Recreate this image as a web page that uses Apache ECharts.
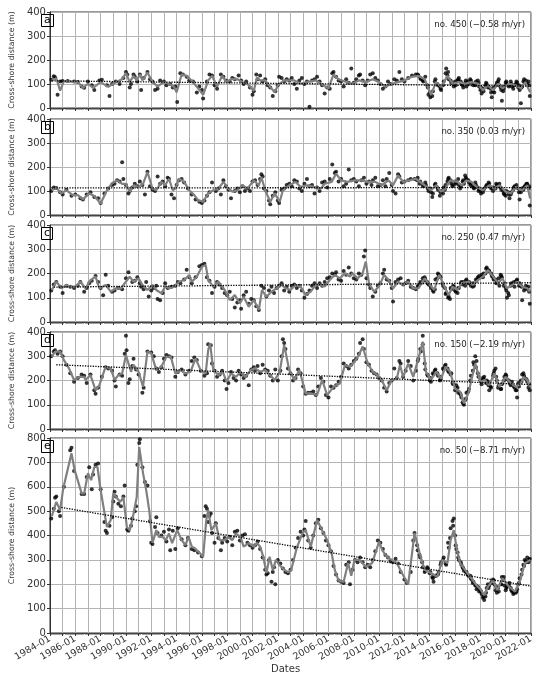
<!DOCTYPE html>
<html>
<head>
<meta charset="utf-8">
<script src="https://cdn.jsdelivr.net/npm/echarts@6/dist/echarts.min.js"></script>
<style>
html,body{margin:0;padding:0;background:#fff}
#main{width:550px;height:679px}
</style>
</head>
<body>
<div id="main"></div>
<script>
// transect labels
var letters = ['a', 'b', 'c', 'd', 'e'];
var notes = ['no. 450 (\u22120.58 m/yr)', 'no. 350 (0.03 m/yr)', 'no. 250 (0.47 m/yr)', 'no. 150 (\u22122.19 m/yr)', 'no. 50 (\u22128.71 m/yr)'];
var yMax = [400, 400, 400, 400, 800];

// shoreline positions [decimal year, m]
var ptsA = [[1984.1,118],[1984.3,132],[1984.4,128],[1984.6,55],[1984.8,110],[1985.0,112],[1985.4,112],[1985.9,110],[1986.2,108],[1986.5,90],[1986.7,84],[1987.0,110],[1987.3,95],[1987.5,75],[1987.9,115],[1988.1,118],[1988.5,95],[1988.7,50],[1988.9,100],[1989.2,110],[1989.5,100],[1989.8,125],[1990.0,150],[1990.1,140],[1990.3,85],[1990.4,100],[1990.6,140],[1990.7,130],[1990.9,110],[1991.1,140],[1991.2,75],[1991.4,125],[1991.7,150],[1991.9,120],[1992.1,110],[1992.3,75],[1992.5,80],[1992.7,115],[1993.0,110],[1993.2,95],[1993.5,100],[1993.7,85],[1993.9,90],[1994.05,25],[1994.3,145],[1994.5,140],[1994.8,130],[1995.0,115],[1995.3,110],[1995.6,65],[1995.8,90],[1996.0,75],[1996.1,40],[1996.4,110],[1996.6,140],[1996.8,135],[1997.0,95],[1997.2,80],[1997.5,140],[1997.7,130],[1997.9,115],[1998.2,110],[1998.4,125],[1998.6,120],[1998.9,135],[1999.1,115],[1999.3,100],[1999.5,110],[1999.8,85],[2000.0,55],[2000.1,70],[2000.3,140],[2000.4,120],[2000.6,135],[2000.8,110],[2001.0,120],[2001.2,95],[2001.4,85],[2001.6,50],[2001.8,70],[2002.0,95],[2002.1,130],[2002.3,125],[2002.5,110],[2002.7,120],[2002.9,115],[2003.1,125],[2003.3,100],[2003.5,80],[2003.7,115],[2003.9,125],[2004.1,100],[2004.3,110],[2004.5,5],[2004.7,115],[2004.9,120],[2005.1,130],[2005.3,110],[2005.5,95],[2005.7,60],[2005.9,85],[2006.1,80],[2006.3,145],[2006.4,150],[2006.6,130],[2006.8,115],[2007.0,110],[2007.2,90],[2007.4,120],[2007.6,105],[2007.8,165],[2008.0,105],[2008.2,120],[2008.4,135],[2008.5,140],[2008.7,115],[2008.9,95],[2009.1,115],[2009.3,140],[2009.5,145],[2009.7,125],[2009.9,115],[2010.1,100],[2010.3,80],[2010.5,90],[2010.7,110],[2010.9,100],[2011.2,120],[2011.4,115],[2011.6,150],[2011.8,120],[2012.0,110],[2012.3,125],[2012.6,135],[2012.9,140],[2013.1,135],[2013.3,120],[2013.5,110],[2013.8,95],[2013.9,55],[2014.0,65],[2014.2,50],[2014.4,110],[2014.6,100],[2014.8,90],[2014.9,75],[2015.1,110],[2015.3,165],[2015.4,135],[2015.5,120],[2015.7,105],[2015.9,90],[2016.0,110],[2016.2,115],[2016.3,125],[2016.5,100],[2016.6,95],[2016.8,105],[2016.9,90],[2017.0,110],[2017.2,120],[2017.3,105],[2017.5,100],[2017.6,95],[2017.8,115],[2017.9,90],[2018.0,75],[2018.1,60],[2018.2,80],[2018.4,95],[2018.5,100],[2018.6,85],[2018.8,80],[2018.9,45],[2019.0,70],[2019.1,65],[2019.3,105],[2019.4,110],[2019.5,95],[2019.6,85],[2019.7,30],[2019.8,70],[2019.9,90],[2020.0,105],[2020.1,100],[2020.3,95],[2020.4,110],[2020.5,90],[2020.6,80],[2020.8,100],[2020.9,105],[2021.0,85],[2021.1,75],[2021.2,20],[2021.3,90],[2021.4,110],[2021.5,105],[2021.6,115],[2021.7,100],[2021.8,110],[2021.9,50]];
var ptsB = [[1984.1,100],[1984.3,115],[1984.5,112],[1984.8,95],[1985.0,85],[1985.3,105],[1985.7,80],[1986.0,85],[1986.4,70],[1986.6,65],[1986.9,85],[1987.2,95],[1987.5,75],[1987.8,70],[1988.0,50],[1988.3,90],[1988.6,110],[1988.9,125],[1989.1,130],[1989.3,145],[1989.5,140],[1989.7,220],[1989.8,150],[1990.0,125],[1990.2,90],[1990.3,100],[1990.5,115],[1990.7,130],[1990.9,120],[1991.1,140],[1991.3,125],[1991.5,85],[1991.7,180],[1991.9,120],[1992.1,105],[1992.3,100],[1992.5,160],[1992.7,130],[1992.9,140],[1993.1,120],[1993.3,155],[1993.4,150],[1993.6,85],[1993.8,70],[1994.0,125],[1994.2,145],[1994.4,150],[1994.6,135],[1994.9,110],[1995.2,85],[1995.5,65],[1995.8,55],[1996.0,50],[1996.2,60],[1996.4,80],[1996.6,95],[1996.8,135],[1997.1,100],[1997.3,110],[1997.5,85],[1997.7,145],[1997.9,120],[1998.1,105],[1998.3,70],[1998.6,100],[1998.8,110],[1999.0,95],[1999.2,120],[1999.4,100],[1999.6,110],[1999.8,100],[2000.0,140],[2000.2,145],[2000.4,125],[2000.6,150],[2000.7,170],[2000.8,160],[2000.9,110],[2001.1,100],[2001.3,60],[2001.4,45],[2001.6,80],[2001.8,95],[2002.0,60],[2002.1,50],[2002.3,105],[2002.5,110],[2002.7,125],[2002.9,130],[2003.1,120],[2003.3,145],[2003.5,140],[2003.7,110],[2003.9,100],[2004.1,130],[2004.3,150],[2004.5,120],[2004.7,125],[2004.9,90],[2005.1,115],[2005.3,100],[2005.5,135],[2005.7,140],[2005.9,115],[2006.1,150],[2006.3,210],[2006.5,175],[2006.6,180],[2006.8,140],[2007.0,150],[2007.2,120],[2007.4,130],[2007.6,190],[2007.8,145],[2008.0,150],[2008.2,140],[2008.4,120],[2008.6,145],[2008.8,155],[2009.0,130],[2009.2,140],[2009.4,125],[2009.5,145],[2009.7,155],[2009.9,120],[2010.1,125],[2010.3,145],[2010.5,120],[2010.6,150],[2010.8,175],[2011.0,125],[2011.1,100],[2011.3,90],[2011.5,170],[2011.6,160],[2011.8,135],[2012.0,140],[2012.3,145],[2012.5,150],[2012.8,150],[2013.0,145],[2013.2,130],[2013.5,120],[2013.7,125],[2013.9,100],[2014.1,95],[2014.2,75],[2014.4,125],[2014.6,115],[2014.8,80],[2014.9,100],[2015.1,115],[2015.2,105],[2015.4,140],[2015.5,155],[2015.7,130],[2015.8,120],[2016.0,140],[2016.1,135],[2016.3,125],[2016.4,110],[2016.6,140],[2016.7,130],[2016.8,165],[2016.9,150],[2017.1,135],[2017.2,125],[2017.4,120],[2017.5,110],[2017.6,135],[2017.8,115],[2017.9,105],[2018.0,100],[2018.2,95],[2018.3,110],[2018.5,125],[2018.6,120],[2018.7,130],[2018.9,115],[2019.0,100],[2019.2,110],[2019.3,125],[2019.5,130],[2019.6,115],[2019.8,100],[2019.9,85],[2020.0,80],[2020.2,95],[2020.3,70],[2020.4,85],[2020.6,105],[2020.7,120],[2020.8,115],[2021.0,110],[2021.1,65],[2021.2,95],[2021.4,105],[2021.5,120],[2021.6,125],[2021.7,130],[2021.8,110],[2021.9,40]];
var ptsC = [[1984.1,130],[1984.3,155],[1984.5,165],[1984.8,145],[1985.0,120],[1985.3,150],[1985.6,145],[1985.9,140],[1986.2,150],[1986.4,165],[1986.7,125],[1986.9,140],[1987.1,160],[1987.3,170],[1987.6,190],[1987.8,165],[1988.0,140],[1988.2,110],[1988.4,195],[1988.6,150],[1988.9,125],[1989.1,130],[1989.4,140],[1989.7,135],[1990.0,180],[1990.2,205],[1990.5,165],[1990.7,170],[1990.9,185],[1991.1,160],[1991.2,145],[1991.4,135],[1991.6,165],[1991.8,105],[1992.0,130],[1992.2,140],[1992.4,150],[1992.5,95],[1992.7,90],[1992.9,120],[1993.1,160],[1993.3,140],[1993.6,145],[1993.9,150],[1994.1,165],[1994.3,160],[1994.6,175],[1994.8,215],[1995.0,185],[1995.2,160],[1995.5,185],[1995.8,230],[1996.0,235],[1996.2,240],[1996.4,185],[1996.6,170],[1996.8,120],[1997.0,145],[1997.2,165],[1997.4,155],[1997.6,140],[1997.8,120],[1998.0,110],[1998.2,125],[1998.4,95],[1998.6,60],[1998.8,80],[1999.0,90],[1999.1,55],[1999.3,110],[1999.5,125],[1999.7,75],[1999.9,95],[2000.1,90],[2000.3,65],[2000.5,50],[2000.7,150],[2000.9,140],[2001.1,105],[2001.3,130],[2001.5,145],[2001.7,120],[2001.9,140],[2002.1,150],[2002.3,160],[2002.5,130],[2002.7,145],[2002.9,125],[2003.1,150],[2003.3,155],[2003.5,140],[2003.7,150],[2003.9,130],[2004.1,100],[2004.3,115],[2004.5,130],[2004.7,150],[2004.9,160],[2005.1,140],[2005.3,160],[2005.5,150],[2005.7,165],[2005.9,180],[2006.1,185],[2006.3,200],[2006.5,195],[2006.6,205],[2006.8,175],[2007.0,170],[2007.2,210],[2007.4,195],[2007.6,225],[2007.8,200],[2008.0,180],[2008.2,175],[2008.4,200],[2008.6,195],[2008.8,270],[2008.9,295],[2009.0,180],[2009.2,155],[2009.3,140],[2009.5,105],[2009.7,125],[2009.9,150],[2010.1,160],[2010.3,200],[2010.4,215],[2010.6,175],[2010.8,170],[2011.0,140],[2011.1,85],[2011.3,165],[2011.5,175],[2011.7,180],[2011.9,155],[2012.1,160],[2012.3,170],[2012.5,145],[2012.7,140],[2012.9,135],[2013.1,150],[2013.3,160],[2013.5,170],[2013.6,185],[2013.8,165],[2013.9,155],[2014.1,140],[2014.3,125],[2014.4,135],[2014.6,180],[2014.7,195],[2014.8,190],[2015.0,160],[2015.2,140],[2015.3,120],[2015.5,105],[2015.6,95],[2015.7,135],[2015.9,145],[2016.0,130],[2016.2,120],[2016.3,140],[2016.5,165],[2016.6,155],[2016.8,150],[2016.9,175],[2017.1,165],[2017.2,160],[2017.4,145],[2017.5,150],[2017.7,170],[2017.8,185],[2017.9,190],[2018.1,195],[2018.2,185],[2018.4,200],[2018.5,225],[2018.6,215],[2018.7,210],[2018.9,190],[2019.0,185],[2019.2,175],[2019.3,165],[2019.5,150],[2019.6,195],[2019.7,185],[2019.9,160],[2020.0,140],[2020.1,100],[2020.2,120],[2020.4,150],[2020.5,155],[2020.7,145],[2020.8,165],[2020.9,175],[2021.1,160],[2021.2,150],[2021.3,90],[2021.5,140],[2021.6,150],[2021.7,135],[2021.8,145],[2021.9,75]];
var ptsD = [[1984.1,300],[1984.3,320],[1984.4,325],[1984.6,310],[1984.8,320],[1985.0,300],[1985.3,265],[1985.6,230],[1985.9,195],[1986.2,210],[1986.5,225],[1986.7,220],[1986.9,190],[1987.2,225],[1987.5,160],[1987.6,145],[1987.8,170],[1988.1,215],[1988.4,255],[1988.6,250],[1988.9,240],[1989.1,200],[1989.2,175],[1989.5,225],[1989.7,220],[1989.9,310],[1990.0,385],[1990.05,325],[1990.2,190],[1990.3,205],[1990.5,260],[1990.6,290],[1990.8,245],[1991.0,225],[1991.3,150],[1991.4,170],[1991.7,320],[1992.0,315],[1992.2,300],[1992.4,250],[1992.6,235],[1992.8,255],[1993.0,290],[1993.2,305],[1993.4,300],[1993.6,295],[1993.9,215],[1994.1,235],[1994.4,245],[1994.7,225],[1995.0,240],[1995.2,280],[1995.4,295],[1995.6,285],[1995.9,240],[1996.2,220],[1996.4,230],[1996.5,350],[1996.7,345],[1996.8,270],[1997.0,240],[1997.2,215],[1997.4,225],[1997.6,240],[1997.8,200],[1997.95,165],[1998.1,190],[1998.3,235],[1998.5,210],[1998.7,200],[1998.9,240],[1999.1,225],[1999.3,210],[1999.5,220],[1999.7,180],[1999.9,245],[2000.1,255],[2000.2,240],[2000.4,260],[2000.6,230],[2000.8,265],[2001.0,245],[2001.2,240],[2001.4,220],[2001.6,200],[2001.8,245],[2002.0,200],[2002.2,240],[2002.3,300],[2002.4,370],[2002.5,355],[2002.6,330],[2002.8,250],[2003.0,230],[2003.2,200],[2003.4,210],[2003.6,245],[2003.8,230],[2004.0,175],[2004.2,145],[2004.4,150],[2004.6,150],[2004.8,155],[2005.0,140],[2005.2,175],[2005.4,210],[2005.6,195],[2005.8,140],[2006.0,130],[2006.2,175],[2006.4,170],[2006.6,180],[2006.8,195],[2007.0,215],[2007.2,270],[2007.4,260],[2007.6,250],[2007.8,265],[2008.0,280],[2008.2,290],[2008.4,310],[2008.5,355],[2008.7,370],[2008.8,330],[2009.0,275],[2009.2,265],[2009.4,240],[2009.6,230],[2009.8,225],[2010.0,210],[2010.2,200],[2010.4,170],[2010.6,155],[2010.8,190],[2011.0,200],[2011.2,250],[2011.4,210],[2011.6,280],[2011.7,270],[2011.9,215],[2012.1,240],[2012.3,280],[2012.5,260],[2012.7,200],[2012.9,240],[2013.1,290],[2013.3,320],[2013.45,385],[2013.6,270],[2013.8,225],[2014.0,200],[2014.1,195],[2014.3,225],[2014.4,240],[2014.6,230],[2014.8,200],[2014.9,215],[2015.1,245],[2015.2,260],[2015.4,250],[2015.5,235],[2015.7,230],[2015.8,190],[2016.0,160],[2016.1,180],[2016.2,170],[2016.4,145],[2016.5,130],[2016.6,110],[2016.7,100],[2016.8,120],[2016.9,150],[2017.1,165],[2017.2,200],[2017.4,240],[2017.5,265],[2017.6,300],[2017.7,280],[2017.8,230],[2018.0,200],[2018.1,185],[2018.2,210],[2018.3,215],[2018.5,200],[2018.6,195],[2018.7,160],[2018.8,175],[2019.0,220],[2019.1,240],[2019.2,250],[2019.3,200],[2019.4,170],[2019.6,165],[2019.7,185],[2019.9,215],[2020.0,225],[2020.1,205],[2020.3,190],[2020.4,180],[2020.5,195],[2020.7,170],[2020.8,160],[2020.9,130],[2021.0,190],[2021.2,200],[2021.3,225],[2021.4,230],[2021.5,210],[2021.7,195],[2021.8,170],[2021.9,160]];
var ptsE = [[1984.1,470],[1984.3,510],[1984.4,555],[1984.5,560],[1984.7,500],[1984.8,480],[1985.1,600],[1985.6,750],[1985.7,760],[1985.9,665],[1986.5,570],[1986.7,570],[1986.9,640],[1987.1,680],[1987.3,590],[1987.4,650],[1987.6,690],[1987.8,695],[1988.0,590],[1988.3,455],[1988.4,420],[1988.5,410],[1988.7,440],[1988.9,475],[1989.0,540],[1989.1,580],[1989.2,560],[1989.4,530],[1989.6,520],[1989.8,560],[1989.9,605],[1990.1,425],[1990.2,420],[1990.4,440],[1990.5,470],[1990.7,500],[1990.8,520],[1990.9,690],[1991.05,780],[1991.1,795],[1991.3,680],[1991.5,620],[1991.7,605],[1991.9,460],[1992.0,370],[1992.1,365],[1992.3,435],[1992.4,475],[1992.5,410],[1992.8,400],[1993.0,415],[1993.2,375],[1993.4,425],[1993.5,340],[1993.7,420],[1993.9,345],[1994.1,430],[1994.4,385],[1994.7,360],[1994.9,390],[1995.2,345],[1995.4,340],[1995.7,330],[1996.0,315],[1996.2,480],[1996.3,520],[1996.4,510],[1996.5,455],[1996.6,480],[1996.7,490],[1996.8,410],[1997.0,370],[1997.1,450],[1997.3,390],[1997.5,340],[1997.6,370],[1997.8,390],[1998.0,375],[1998.2,395],[1998.4,360],[1998.6,415],[1998.8,420],[1999.0,380],[1999.2,400],[1999.4,405],[1999.6,370],[1999.8,360],[2000.0,350],[2000.2,360],[2000.4,375],[2000.6,345],[2000.8,310],[2001.0,260],[2001.1,240],[2001.2,245],[2001.3,300],[2001.5,210],[2001.6,250],[2001.7,270],[2001.8,200],[2002.0,300],[2002.2,285],[2002.4,265],[2002.6,250],[2002.8,245],[2003.0,260],[2003.2,300],[2003.4,350],[2003.6,390],[2003.8,415],[2004.0,400],[2004.1,425],[2004.2,460],[2004.4,380],[2004.6,350],[2004.8,400],[2005.0,450],[2005.2,465],[2005.4,430],[2005.6,410],[2005.8,380],[2006.0,360],[2006.2,335],[2006.4,275],[2006.6,240],[2006.8,215],[2007.0,210],[2007.2,205],[2007.4,280],[2007.6,290],[2007.7,200],[2007.9,260],[2008.1,300],[2008.3,290],[2008.5,310],[2008.7,290],[2008.9,270],[2009.1,280],[2009.3,270],[2009.5,300],[2009.7,335],[2009.9,380],[2010.1,370],[2010.3,345],[2010.5,320],[2010.7,310],[2010.9,295],[2011.1,290],[2011.3,305],[2011.5,285],[2011.7,250],[2012.0,220],[2012.2,205],[2012.5,250],[2012.7,380],[2012.8,410],[2013.0,360],[2013.2,320],[2013.4,290],[2013.6,250],[2013.8,270],[2014.0,245],[2014.2,230],[2014.3,210],[2014.5,235],[2014.7,250],[2014.9,290],[2015.1,310],[2015.3,280],[2015.5,350],[2015.6,390],[2015.8,460],[2015.9,470],[2016.0,400],[2016.1,345],[2016.2,330],[2016.3,300],[2016.5,280],[2016.6,270],[2016.7,255],[2016.9,250],[2017.0,240],[2017.2,235],[2017.3,220],[2017.4,205],[2017.6,195],[2017.7,180],[2017.8,190],[2017.9,170],[2018.0,175],[2018.1,160],[2018.2,145],[2018.3,135],[2018.4,150],[2018.5,185],[2018.6,200],[2018.7,195],[2018.9,210],[2019.0,220],[2019.1,200],[2019.2,175],[2019.3,165],[2019.4,185],[2019.6,200],[2019.7,230],[2019.8,220],[2019.9,195],[2020.0,175],[2020.1,190],[2020.3,205],[2020.4,185],[2020.5,170],[2020.6,160],[2020.8,165],[2020.9,180],[2021.0,200],[2021.1,225],[2021.3,260],[2021.4,280],[2021.5,300],[2021.6,295],[2021.7,310],[2021.8,290],[2021.9,305]];

// extra acquisitions 2013-2021 (denser record), taken at .05/.25/.45/.65/.85 of each year
var recentYears = [2013, 2014, 2015, 2016, 2017, 2018, 2019, 2020, 2021];
var recentOffsets = [0.05, 0.25, 0.45, 0.65, 0.85];
var recentA = [140,125,115,130,85, 45,70,120,95,80, 95,145,150,115,100, 95,120,110,85,115, 100,115,95,110,105, 85,70,105,90,65, 85,95,120,75,80, 110,90,100,95,110, 95,85,120,100,95];
var recentB = [155,140,125,135,110, 110,90,130,105,95, 90,125,150,145,125, 130,150,120,145,155, 145,130,115,125,100, 90,105,120,135,110, 115,130,120,105,90, 100,85,95,115,125, 95,110,115,130,120];
var recentC = [145,165,180,175,160, 150,130,175,200,185, 150,115,100,140,150, 125,140,160,165,170, 160,150,160,175,180, 185,200,220,210,200, 175,160,180,190,150, 130,110,160,165,170, 150,145,130,140,125];
var recentD = [280,330,350,245,220, 210,230,245,220,205, 250,265,240,225,185, 170,150,140,105,125, 155,220,275,255,215, 195,205,190,180,170, 230,215,180,165,200, 220,200,185,175,160, 175,195,220,205,185];
var recentE = [340,310,270,255,265, 250,225,235,240,280, 300,285,370,430,440, 360,310,290,265,250, 235,225,210,195,185, 170,150,165,185,205, 215,190,170,200,230, 185,195,175,165,170, 205,240,275,290,300];

// smoothed series (grey line)
var lineA = [[1984.15,115],[1984.5,124],[1984.8,72],[1985.1,112],[1986.2,108],[1986.6,84],[1987.0,101],[1987.4,84],[1988.0,108],[1988.6,88],[1989.2,108],[1989.7,120],[1990.0,145],[1990.3,108],[1990.6,134],[1990.85,115],[1991.1,140],[1991.3,115],[1991.7,148],[1992.1,108],[1992.5,90],[1993.0,108],[1993.4,100],[1993.8,88],[1994.0,65],[1994.4,140],[1994.8,134],[1995.3,108],[1995.7,82],[1996.1,55],[1996.5,115],[1996.8,134],[1997.2,90],[1997.6,134],[1997.95,108],[1998.3,120],[1998.8,120],[1999.2,108],[1999.6,100],[2000.1,72],[2000.35,127],[2000.6,115],[2001.0,115],[2001.4,88],[2001.75,65],[2002.0,94],[2002.5,115],[2003.3,115],[2003.8,101],[2004.3,108],[2005.0,115],[2005.6,94],[2006.0,82],[2006.4,140],[2006.8,120],[2007.4,108],[2007.9,101],[2008.4,115],[2008.95,108],[2009.5,120],[2010.0,108],[2010.5,88],[2011.0,101],[2011.5,108],[2012.0,115],[2012.55,129],[2013.1,134],[2013.6,120],[2014.1,55],[2014.5,108],[2014.9,88],[2015.4,134],[2015.8,101],[2016.3,108],[2016.8,101],[2017.3,108],[2017.8,101],[2018.2,74],[2018.6,94],[2019.0,74],[2019.4,101],[2019.75,82],[2020.26,101],[2020.8,94],[2021.2,82],[2021.55,108],[2021.93,65]];
var lineB = [[1984.15,103],[1984.5,114],[1984.9,90],[1985.3,103],[1985.8,83],[1986.2,83],[1986.6,65],[1987.1,90],[1987.5,79],[1988.0,48],[1988.5,103],[1988.9,133],[1989.3,144],[1989.7,130],[1990.0,130],[1990.3,97],[1990.6,124],[1991.0,117],[1991.35,130],[1991.7,179],[1992.1,110],[1992.4,103],[1992.8,138],[1993.1,124],[1993.4,151],[1993.7,103],[1993.9,110],[1994.2,151],[1994.6,138],[1995.0,103],[1995.4,83],[1995.7,62],[1996.1,55],[1996.5,90],[1996.9,103],[1997.3,110],[1997.7,138],[1998.1,110],[1998.4,97],[1998.8,103],[1999.2,124],[1999.6,110],[2000.1,144],[2000.5,124],[2000.7,158],[2001.0,103],[2001.4,55],[2001.75,90],[2002.15,55],[2002.4,103],[2002.9,124],[2003.4,138],[2003.8,117],[2004.3,124],[2004.8,117],[2005.4,110],[2005.7,130],[2006.25,138],[2006.6,172],[2007.0,144],[2007.5,138],[2008.05,144],[2008.6,144],[2009.1,138],[2009.7,138],[2010.2,124],[2010.75,144],[2011.1,124],[2011.5,165],[2011.9,138],[2012.4,144],[2012.9,151],[2013.6,124],[2014.1,103],[2014.5,124],[2014.9,97],[2015.25,110],[2015.6,144],[2016.2,138],[2016.5,124],[2016.9,144],[2017.3,138],[2017.7,117],[2018.2,103],[2018.7,124],[2019.1,110],[2019.5,124],[2020.0,97],[2020.4,90],[2020.8,117],[2021.3,103],[2021.7,124],[2021.93,69]];
var lineC = [[1984.15,132],[1984.5,166],[1984.9,139],[1985.3,153],[1985.6,146],[1986.0,146],[1986.4,166],[1986.8,139],[1987.2,173],[1987.6,187],[1987.9,139],[1988.4,153],[1988.8,125],[1989.2,139],[1989.6,139],[1990.0,166],[1990.3,187],[1990.6,166],[1991.0,180],[1991.3,153],[1991.7,132],[1992.1,153],[1992.4,132],[1992.8,118],[1993.1,146],[1993.45,139],[1993.8,146],[1994.2,166],[1994.6,173],[1995.0,194],[1995.2,166],[1995.6,187],[1996.0,228],[1996.3,235],[1996.5,173],[1996.9,146],[1997.3,166],[1997.8,132],[1998.2,91],[1998.6,111],[1999.0,77],[1999.3,104],[1999.7,63],[2000.1,91],[2000.5,50],[2000.75,132],[2001.1,104],[2001.5,125],[2001.9,139],[2002.27,153],[2002.65,139],[2003.0,132],[2003.4,153],[2003.8,146],[2004.2,111],[2004.6,125],[2005.0,153],[2005.35,153],[2005.7,146],[2006.1,173],[2006.5,194],[2006.9,180],[2007.3,201],[2007.7,187],[2007.9,201],[2008.3,180],[2008.7,201],[2008.95,249],[2009.2,160],[2009.6,125],[2009.98,146],[2010.4,194],[2010.75,173],[2011.1,139],[2011.5,166],[2011.9,153],[2012.3,166],[2012.7,139],[2013.1,139],[2013.6,180],[2014.0,153],[2014.35,132],[2014.75,194],[2015.1,153],[2015.5,111],[2015.8,146],[2016.2,132],[2016.5,160],[2017.05,166],[2017.4,153],[2017.8,173],[2018.2,187],[2018.6,215],[2019.0,187],[2019.4,160],[2019.75,180],[2020.1,139],[2020.5,153],[2020.9,166],[2021.3,146],[2021.7,139],[2021.93,125]];
var lineD = [[1984.15,298],[1984.4,319],[1984.8,319],[1985.1,284],[1985.5,250],[1985.9,202],[1986.3,215],[1986.7,215],[1986.8,202],[1987.2,222],[1987.6,160],[1987.9,181],[1988.4,257],[1988.8,250],[1989.1,202],[1989.4,222],[1989.7,229],[1990.0,305],[1990.4,236],[1990.6,264],[1991.0,236],[1991.35,174],[1991.7,319],[1992.0,312],[1992.4,243],[1992.8,257],[1993.2,298],[1993.55,298],[1993.9,229],[1994.3,243],[1994.7,229],[1995.1,236],[1995.5,291],[1995.9,243],[1996.3,229],[1996.5,326],[1996.65,354],[1996.9,243],[1997.3,222],[1997.65,236],[1997.95,195],[1998.3,229],[1998.7,215],[1999.05,236],[1999.45,215],[1999.85,243],[2000.2,250],[2000.6,236],[2001.0,243],[2001.4,222],[2001.75,202],[2002.15,236],[2002.5,346],[2002.9,243],[2003.3,202],[2003.7,243],[2004.2,147],[2004.6,147],[2005.1,140],[2005.5,202],[2005.9,140],[2006.4,174],[2006.9,188],[2007.3,264],[2007.7,257],[2008.05,277],[2008.4,305],[2008.7,340],[2009.1,270],[2009.5,236],[2009.85,222],[2010.2,202],[2010.6,160],[2011.0,202],[2011.4,208],[2011.65,264],[2011.9,215],[2012.3,270],[2012.7,215],[2013.1,291],[2013.45,360],[2013.7,236],[2014.1,202],[2014.5,236],[2014.9,208],[2015.25,257],[2015.6,236],[2016.0,167],[2016.4,154],[2016.7,106],[2017.05,147],[2017.6,270],[2018.0,195],[2018.35,202],[2018.7,181],[2019.1,229],[2019.5,174],[2020.0,215],[2020.4,188],[2020.8,174],[2021.2,188],[2021.4,215],[2021.7,202],[2021.93,174]];
var lineE = [[1984.15,480],[1984.5,538],[1984.8,504],[1985.05,594],[1985.7,737],[1985.95,668],[1986.5,573],[1986.7,573],[1987.0,656],[1987.25,627],[1987.5,681],[1987.75,681],[1988.0,586],[1988.4,464],[1988.5,435],[1988.8,464],[1989.0,573],[1989.3,553],[1989.55,538],[1989.8,557],[1989.95,557],[1990.07,435],[1990.3,422],[1990.55,476],[1990.85,557],[1991.05,763],[1991.35,656],[1991.6,586],[1991.85,500],[1992.1,369],[1992.4,422],[1992.6,394],[1992.9,394],[1993.15,381],[1993.4,408],[1993.65,369],[1994.05,422],[1994.4,381],[1994.7,361],[1994.95,394],[1995.2,354],[1995.45,348],[1995.85,327],[1996.1,313],[1996.35,464],[1996.5,504],[1996.75,422],[1997.1,450],[1997.4,381],[1997.8,381],[1998.05,394],[1998.4,381],[1998.7,408],[1999.05,394],[1999.3,354],[1999.7,369],[2000.1,354],[2000.35,369],[2000.6,354],[2000.85,313],[2001.1,246],[2001.35,313],[2001.6,258],[2001.85,300],[2002.1,280],[2002.5,260],[2002.8,250],[2003.05,258],[2003.5,350],[2003.95,410],[2004.2,422],[2004.6,354],[2005.1,464],[2005.5,422],[2005.9,381],[2006.25,327],[2006.5,258],[2006.8,215],[2007.2,210],[2007.55,287],[2007.8,235],[2008.05,300],[2008.45,300],[2008.95,272],[2009.45,287],[2010.0,375],[2010.25,340],[2010.6,313],[2011.0,300],[2011.4,287],[2011.8,246],[2012.3,200],[2012.8,410],[2013.2,327],[2013.6,258],[2014.1,246],[2014.6,231],[2015.0,300],[2015.4,287],[2015.65,381],[2015.9,422],[2016.15,340],[2016.4,287],[2016.8,258],[2017.2,230],[2017.7,195],[2018.0,180],[2018.3,155],[2018.6,190],[2019.0,217],[2019.35,176],[2019.75,225],[2020.25,190],[2020.75,170],[2021.15,217],[2021.5,285],[2021.95,300]];

// linear trends [start, end]
var trendA = [[1984.15,113],[2022,91]];
var trendB = [[1984.1,113],[2022,114]];
var trendC = [[1984.3,144],[2022,162]];
var trendD = [[1984.5,265],[2022,183]];
var trendE = [[1984.9,515],[2022,192]];

function withRecent(base, recent) {
    var out = base.slice();
    var k = 0;
    recentYears.forEach(function (y) {
        recentOffsets.forEach(function (o) {
            out.push([+(y + o).toFixed(2), recent[k++]]);
        });
    });
    return out;
}

var pts = [withRecent(ptsA, recentA), withRecent(ptsB, recentB), withRecent(ptsC, recentC), withRecent(ptsD, recentD), withRecent(ptsE, recentE)];
var lines = [lineA, lineB, lineC, lineD, lineE];
var trends = [trendA, trendB, trendC, trendD, trendE];

var tops = [12, 119, 225, 332, 438];
var heights = [96, 96, 97, 97, 195];
var font = 'DejaVu Sans';

var grid = [], xAxis = [], yAxis = [], series = [], title = [];
for (var i = 0; i < 5; i++) {
    grid.push({left: 38, right: 19, top: tops[i], height: heights[i], show: true, borderColor: '#333', borderWidth: 1});
    xAxis.push({
        gridIndex: i, type: 'value', min: 1984, max: 2022, interval: 1,
        axisLine: {show: true, lineStyle: {color: '#333'}},
        axisTick: {show: true, length: 3, lineStyle: {color: '#333'}},
        minorTick: {show: true, splitNumber: 12, length: 1.5, lineStyle: {color: '#444'}},
        splitLine: {show: true, lineStyle: {color: '#b4b4b4', width: 1}},
        axisLabel: {
            show: i === 4, rotate: 30, fontSize: 9.5, color: '#333', fontFamily: font, margin: 5,
            formatter: function (v) { return v % 2 === 0 ? v + '-01' : ''; }
        }
    });
    yAxis.push({
        gridIndex: i, type: 'value', min: 0, max: yMax[i], interval: 100,
        axisLine: {show: true, lineStyle: {color: '#333'}},
        axisTick: {show: true, length: 3, lineStyle: {color: '#333'}},
        splitLine: {show: true, lineStyle: {color: '#b4b4b4'}},
        axisLabel: {fontSize: 10, color: '#333', fontFamily: font, margin: 4},
        name: 'Cross-shore distance (m)', nameLocation: 'middle', nameGap: 29,
        nameTextStyle: {fontSize: 7.8, color: '#333', fontFamily: font}
    });
    series.push({
        type: 'scatter', xAxisIndex: i, yAxisIndex: i, data: pts[i],
        symbolSize: 4, itemStyle: {color: '#000'}, z: 2
    });
    series.push({
        type: 'line', xAxisIndex: i, yAxisIndex: i, data: lines[i],
        showSymbol: false, lineStyle: {color: '#808080', width: 2.2}, z: 3
    });
    series.push({
        type: 'line', xAxisIndex: i, yAxisIndex: i, data: trends[i],
        showSymbol: false, lineStyle: {color: '#000', width: 1.3, type: 'dotted'}, z: 4
    });
    title.push({
        text: letters[i], left: 41, top: tops[i] + 2,
        borderColor: '#000', borderWidth: 1, padding: [1, 3, 1, 3],
        textStyle: {fontSize: 11, fontWeight: 'normal', color: '#000', fontFamily: font, lineHeight: 11}
    });
    title.push({
        text: notes[i], right: 25, top: tops[i] + 8, padding: 0,
        textStyle: {fontSize: 8.6, fontWeight: 'normal', color: '#222', fontFamily: font}
    });
}

var chart = echarts.init(document.getElementById('main'));
chart.setOption({
    animation: false,
    backgroundColor: '#fff',
    title: title,
    grid: grid,
    xAxis: xAxis,
    yAxis: yAxis,
    series: series,
    graphic: [{
        type: 'text', left: 271, top: 664,
        style: {text: 'Dates', font: '10px "DejaVu Sans"', fill: '#333'}
    }]
});
</script>
</body>
</html>
